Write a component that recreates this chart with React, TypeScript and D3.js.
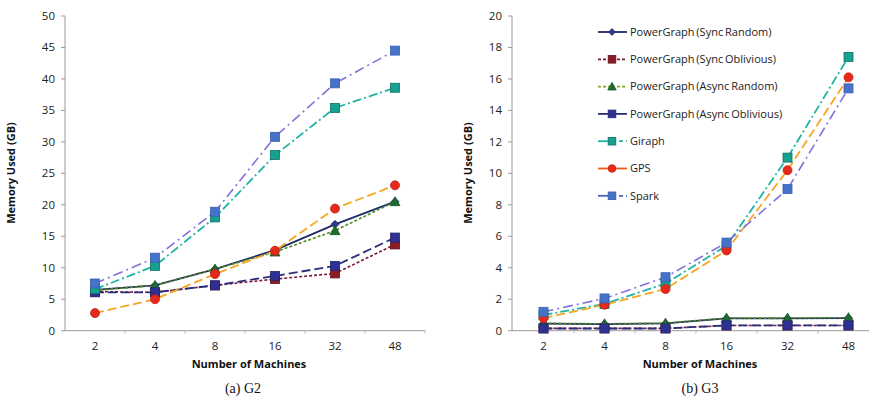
import React from "react";
import * as d3 from "d3";

const machines = ["2", "4", "8", "16", "32", "48"];
const seriesNames = [
  "PowerGraph (Sync Random)",
  "PowerGraph (Sync Oblivious)",
  "PowerGraph (Async Random)",
  "PowerGraph (Async Oblivious)",
  "Giraph",
  "GPS",
  "Spark",
];
// G2 values (GB)
const g2SyncRandom = [6.5, 7.2, 9.8, 12.8, 16.9, 20.5];
const g2SyncOblivious = [6.2, 6.1, 7.2, 8.2, 9.1, 13.7];
const g2AsyncRandom = [6.4, 7.2, 9.8, 12.5, 15.9, 20.5];
const g2AsyncOblivious = [6.1, 6.1, 7.2, 8.7, 10.3, 14.8];
const g2Giraph = [6.6, 10.3, 18.0, 27.9, 35.4, 38.6];
const g2GPS = [2.8, 5.0, 9.0, 12.7, 19.4, 23.1];
const g2Spark = [7.5, 11.6, 18.9, 30.8, 39.3, 44.5];
// G3 values (GB)
const g3SyncRandom = [0.45, 0.42, 0.46, 0.78, 0.78, 0.8];
const g3SyncOblivious = [0.15, 0.15, 0.15, 0.33, 0.33, 0.33];
const g3AsyncRandom = [0.47, 0.44, 0.48, 0.8, 0.8, 0.83];
const g3AsyncOblivious = [0.14, 0.14, 0.14, 0.34, 0.34, 0.34];
const g3Giraph = [1.0, 1.7, 3.0, 5.4, 11.0, 17.4];
const g3GPS = [0.8, 1.65, 2.65, 5.1, 10.2, 16.1];
const g3Spark = [1.2, 2.05, 3.4, 5.6, 9.0, 15.4];

const yTicksG2 = [0, 5, 10, 15, 20, 25, 30, 35, 40, 45, 50];
const yTicksG3 = [0, 2, 4, 6, 8, 10, 12, 14, 16, 18, 20];

type Style = { line: string; dash: string; width: number; marker: string; fill: string; stroke: string; size: number; legL: string; legR: string };
const styles: Style[] = [
  { line: "#1f2a66", dash: "", width: 1.8, marker: "diamond", fill: "#2b3a8f", stroke: "#1f2a66", size: 4, legL: "", legR: "" },
  { line: "#7a1740", dash: "3,2", width: 1.6, marker: "square", fill: "#8c1c24", stroke: "#6a1020", size: 4.5, legL: "3,2", legR: "3,2" },
  { line: "#4f8a1e", dash: "3,2", width: 1.6, marker: "triangle", fill: "#1f6b2e", stroke: "#1a5a26", size: 5, legL: "3,2", legR: "3,2" },
  { line: "#2b2f7a", dash: "9,4", width: 1.8, marker: "square", fill: "#2e3192", stroke: "#23266f", size: 4.5, legL: "", legR: "" },
  { line: "#1fb3a3", dash: "9,3,2,3", width: 1.8, marker: "square", fill: "#16a090", stroke: "#0f6f66", size: 4.5, legL: "", legR: "4,3" },
  { line: "#f5a623", dash: "9,4", width: 1.8, marker: "circle", fill: "#e52a1c", stroke: "#c81e10", size: 4.5, legL: "", legR: "" },
  { line: "#8470dc", dash: "10,4,2,4", width: 1.6, marker: "square", fill: "#4673c8", stroke: "#3a5fae", size: 4.5, legL: "", legR: "4,3" },
];
const legendLineColors = ["#1f2a66", "#7a1740", "#8aa81e", "#2b2f7a", "#1fb3a3", "#f05a1a", "#4a64b8"];

const g2Data = [g2SyncRandom, g2SyncOblivious, g2AsyncRandom, g2AsyncOblivious, g2Giraph, g2GPS, g2Spark];
const g3Data = [g3SyncRandom, g3SyncOblivious, g3AsyncRandom, g3AsyncOblivious, g3Giraph, g3GPS, g3Spark];

function Marker({ x, y, s }: { x: number; y: number; s: Style }) {
  const r = s.size;
  if (s.marker === "circle") return <circle cx={x} cy={y} r={r} fill={s.fill} stroke={s.stroke} strokeWidth={0.8} />;
  if (s.marker === "diamond")
    return <path d={`M${x},${y - r}L${x + r},${y}L${x},${y + r}L${x - r},${y}Z`} fill={s.fill} stroke={s.stroke} strokeWidth={0.8} />;
  if (s.marker === "triangle")
    return <path d={`M${x},${y - r}L${x + r},${y + r * 0.8}L${x - r},${y + r * 0.8}Z`} fill={s.fill} stroke={s.stroke} strokeWidth={0.8} />;
  return <rect x={x - r} y={y - r} width={2 * r} height={2 * r} fill={s.fill} stroke={s.stroke} strokeWidth={0.8} />;
}

const tickFont = "'Open Sans', 'Liberation Sans', sans-serif";

function Panel({ data, yMax, yTicks, x0, x1, axisX, caption, labelX, capX, yLabelX }: { data: number[][]; yMax: number; yTicks: number[]; x0: number; x1: number; axisX: number; caption: string; labelX: number; capX: number; yLabelX: number }) {
  const x = d3.scaleBand<string>().domain(machines).range([x0, x1]);
  const y = d3.scaleLinear().domain([0, yMax]).range([330.7, 16]);
  const line = d3
    .line<number>()
    .x((_, i) => (x(machines[i]) as number) + x.bandwidth() / 2)
    .y((d) => y(d));
  return (
    <g>
      <line x1={axisX} x2={axisX} y1={y(yMax)} y2={y(0)} stroke="#9a9a9a" strokeWidth={1} />
      <line x1={axisX} x2={x1} y1={y(0)} y2={y(0)} stroke="#9a9a9a" strokeWidth={1} />
      {yTicks.map((t) => (
        <g key={t}>
          <line x1={axisX - 4} x2={axisX} y1={y(t)} y2={y(t)} stroke="#9a9a9a" />
          <text x={axisX - 10} y={y(t)} dy="0.35em" textAnchor="end" fontSize={11.5} fontFamily={tickFont} fill="#222">
            {t}
          </text>
        </g>
      ))}
      {machines.map((m) => (
        <g key={m}>
          <line x1={(x(m) as number) + x.bandwidth()} x2={(x(m) as number) + x.bandwidth()} y1={y(0)} y2={y(0) + 3} stroke="#bbb" />
          <text x={(x(m) as number) + x.bandwidth() / 2} y={350} textAnchor="middle" fontSize={11.5} fontFamily={tickFont} fill="#222">
            {m}
          </text>
        </g>
      ))}
      {data.map((vals, si) => (
        <path key={"l" + si} d={line(vals) || ""} fill="none" stroke={styles[si].line} strokeWidth={styles[si].width} strokeDasharray={styles[si].dash} />
      ))}
      {data.map((vals, si) =>
        vals.map((v, i) => <Marker key={si + "-" + i} x={(x(machines[i]) as number) + x.bandwidth() / 2} y={y(v)} s={styles[si]} />)
      )}
      <text x={labelX} y={368} textAnchor="middle" fontSize={11} fontWeight="bold" fontFamily={tickFont} fill="#111">
        Number of Machines
      </text>
      <text x={capX} y={393} textAnchor="middle" fontSize={14} fontFamily="'Liberation Serif', 'Times New Roman', serif" fill="#111">
        {caption}
      </text>
      <text
        transform={`translate(${yLabelX},${173}) rotate(-90)`}
        textAnchor="middle"
        fontSize={11}
        fontWeight="bold"
        fontFamily={tickFont}
        fill="#111"
      >
        Memory Used (GB)
      </text>
    </g>
  );
}

function Legend() {
  const rowY = (i: number) => 32 + i * 27.3;
  return (
    <g>
      {seriesNames.map((n, i) => {
        const s = styles[i];
        const yy = rowY(i);
        return (
          <g key={n}>
            <line x1={598} x2={612} y1={yy} y2={yy} stroke={legendLineColors[i]} strokeWidth={1.8} strokeDasharray={s.legL} />
            <line x1={612} x2={627} y1={yy} y2={yy} stroke={legendLineColors[i]} strokeWidth={1.8} strokeDasharray={s.legR} />
            <Marker x={612} y={yy} s={{ ...s, size: s.size * 0.85 }} />
            <text x={630} y={yy} dy="0.35em" fontSize={11} fontFamily={tickFont} fill="#222" wordSpacing={-1}>
              {n}
            </text>
          </g>
        );
      })}
    </g>
  );
}

export default function App() {
  return (
    <svg width={869} height={400} style={{ position: "absolute", left: 0, top: 0, background: "#fff" }}>
      <rect width={869} height={400} fill="#fff" />
      <Panel data={g2Data} yMax={50} yTicks={yTicksG2} x0={65} x1={425} axisX={65} caption="(a) G2" labelX={249} capX={243} yLabelX={15} />
      <Panel data={g3Data} yMax={20} yTicks={yTicksG3} x0={513} x1={879} axisX={512} caption="(b) G3" labelX={700} capX={700} yLabelX={472} />
      <Legend />
    </svg>
  );
}
